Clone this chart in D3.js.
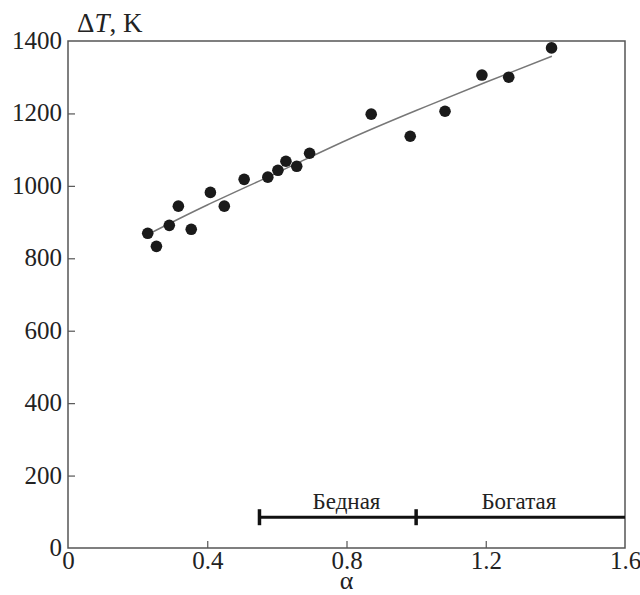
<!DOCTYPE html>
<html>
<head>
<meta charset="utf-8">
<script src="https://cdn.jsdelivr.net/npm/d3@7"></script>
<style>
  body { margin: 0; background: #fff; }
  text { font-family: "Liberation Serif", "DejaVu Serif", serif; fill: #222; }
</style>
</head>
<body>
<div id="container"></div>
<script>
// measured points
var alpha = [0.229, 0.254, 0.291, 0.317, 0.354, 0.409, 0.449, 0.506, 0.574, 0.603,
             0.626, 0.657, 0.694, 0.871, 0.983, 1.083, 1.189, 1.266, 1.389];
var deltaT = [869, 833, 891, 944, 880, 982, 944, 1018, 1024, 1043,
              1068, 1054, 1090, 1198, 1137, 1206, 1306, 1300, 1381];

// fitted curve
var fitAlpha = [0.23, 0.4, 0.6, 0.8, 1.0, 1.2, 1.39];
var fitT = [866, 947, 1036, 1126, 1208, 1286, 1358];

// mixture ranges
var rangeBounds = [0.55, 1.0, 1.6];
var rangeLabels = ["Бедная", "Богатая"];
var rangeLabelAt = [0.80, 1.295];
var rangeLevel = 85;

var xTicks = [0, 0.4, 0.8, 1.2, 1.6];
var yTicks = [0, 200, 400, 600, 800, 1000, 1200, 1400];

var width = 640, height = 595;
var mLeft = 68, mRight = 625, mTop = 41, mBottom = 548;

var svg = d3.select("#container").append("svg")
            .attr("width", width)
            .attr("height", height);

var x = d3.scaleLinear().domain([0, 1.6]).range([mLeft, mRight]);
var y = d3.scaleLinear().domain([0, 1400]).range([mBottom, mTop]);

var axisColor = "#555";

// frame
svg.append("rect")
   .attr("x", mLeft).attr("y", mTop)
   .attr("width", mRight - mLeft).attr("height", mBottom - mTop)
   .attr("fill", "none")
   .attr("stroke", axisColor)
   .attr("stroke-width", 1.5);

// axes with inward ticks
var xAxis = svg.append("g")
   .attr("transform", "translate(0," + mBottom + ")")
   .call(d3.axisBottom(x).tickValues(xTicks).tickSizeInner(-7).tickSizeOuter(0)
          .tickFormat(function(d) { return d === 0 ? "0" : d3.format(".1f")(d); }));
xAxis.select(".domain").remove();
xAxis.selectAll("line").attr("stroke", axisColor).attr("stroke-width", 1.2)
     .style("display", function(d) { return (d === 0 || d === 1.6) ? "none" : null; });
xAxis.selectAll("text")
     .attr("y", 3)
     .attr("dy", "0.71em")
     .style("font-size", "25px")
     .style("font-family", "'Liberation Serif', serif")
     .attr("fill", "#222");

var yAxis = svg.append("g")
   .attr("transform", "translate(" + mLeft + ",0)")
   .call(d3.axisLeft(y).tickValues(yTicks).tickSizeInner(-7).tickSizeOuter(0)
          .tickFormat(d3.format("d")));
yAxis.select(".domain").remove();
yAxis.selectAll("line").attr("stroke", axisColor).attr("stroke-width", 1.2)
     .style("display", function(d) { return (d === 0 || d === 1400) ? "none" : null; });
yAxis.selectAll("text")
     .attr("x", -6)
     .attr("dy", "0.3em")
     .style("font-size", "25px")
     .style("font-family", "'Liberation Serif', serif")
     .attr("fill", "#222");

// axis titles
var yTitle = svg.append("text")
   .attr("x", 77).attr("y", 32)
   .style("font-size", "27px");
yTitle.append("tspan").text("Δ");
yTitle.append("tspan").style("font-style", "italic").text("T");
yTitle.append("tspan").text(", K");

svg.append("text")
   .attr("x", x(0.8)).attr("y", 589)
   .attr("text-anchor", "middle")
   .style("font-size", "26px")
   .text("α");

// fitted curve
var fitData = fitAlpha.map(function(a, i) { return [a, fitT[i]]; });
svg.append("path")
   .datum(fitData)
   .attr("fill", "none")
   .attr("stroke", "#777")
   .attr("stroke-width", 1.5)
   .attr("d", d3.line()
      .x(function(d) { return x(d[0]); })
      .y(function(d) { return y(d[1]); })
      .curve(d3.curveNatural));

// points
var pts = alpha.map(function(a, i) { return [a, deltaT[i]]; });
svg.selectAll("circle.pt")
   .data(pts)
   .enter()
   .append("circle")
   .attr("class", "pt")
   .attr("cx", function(d) { return x(d[0]); })
   .attr("cy", function(d) { return y(d[1]); })
   .attr("r", 5.8)
   .attr("fill", "#1a1a1a");

// range bar
svg.append("line")
   .attr("x1", x(rangeBounds[0])).attr("x2", x(rangeBounds[2]))
   .attr("y1", y(rangeLevel)).attr("y2", y(rangeLevel))
   .attr("stroke", "#111").attr("stroke-width", 3);

svg.selectAll("line.rtick")
   .data(rangeBounds.slice(0, 2))
   .enter()
   .append("line")
   .attr("class", "rtick")
   .attr("x1", function(d) { return x(d); })
   .attr("x2", function(d) { return x(d); })
   .attr("y1", y(rangeLevel) - 8)
   .attr("y2", y(rangeLevel) + 8)
   .attr("stroke", "#111").attr("stroke-width", 3.5);

svg.selectAll("text.rlabel")
   .data(rangeLabels)
   .enter()
   .append("text")
   .attr("class", "rlabel")
   .attr("x", function(d, i) { return x(rangeLabelAt[i]); })
   .attr("y", y(rangeLevel) - 8)
   .attr("text-anchor", "middle")
   .style("font-size", "23px")
   .text(function(d) { return d; });
</script>
</body>
</html>
